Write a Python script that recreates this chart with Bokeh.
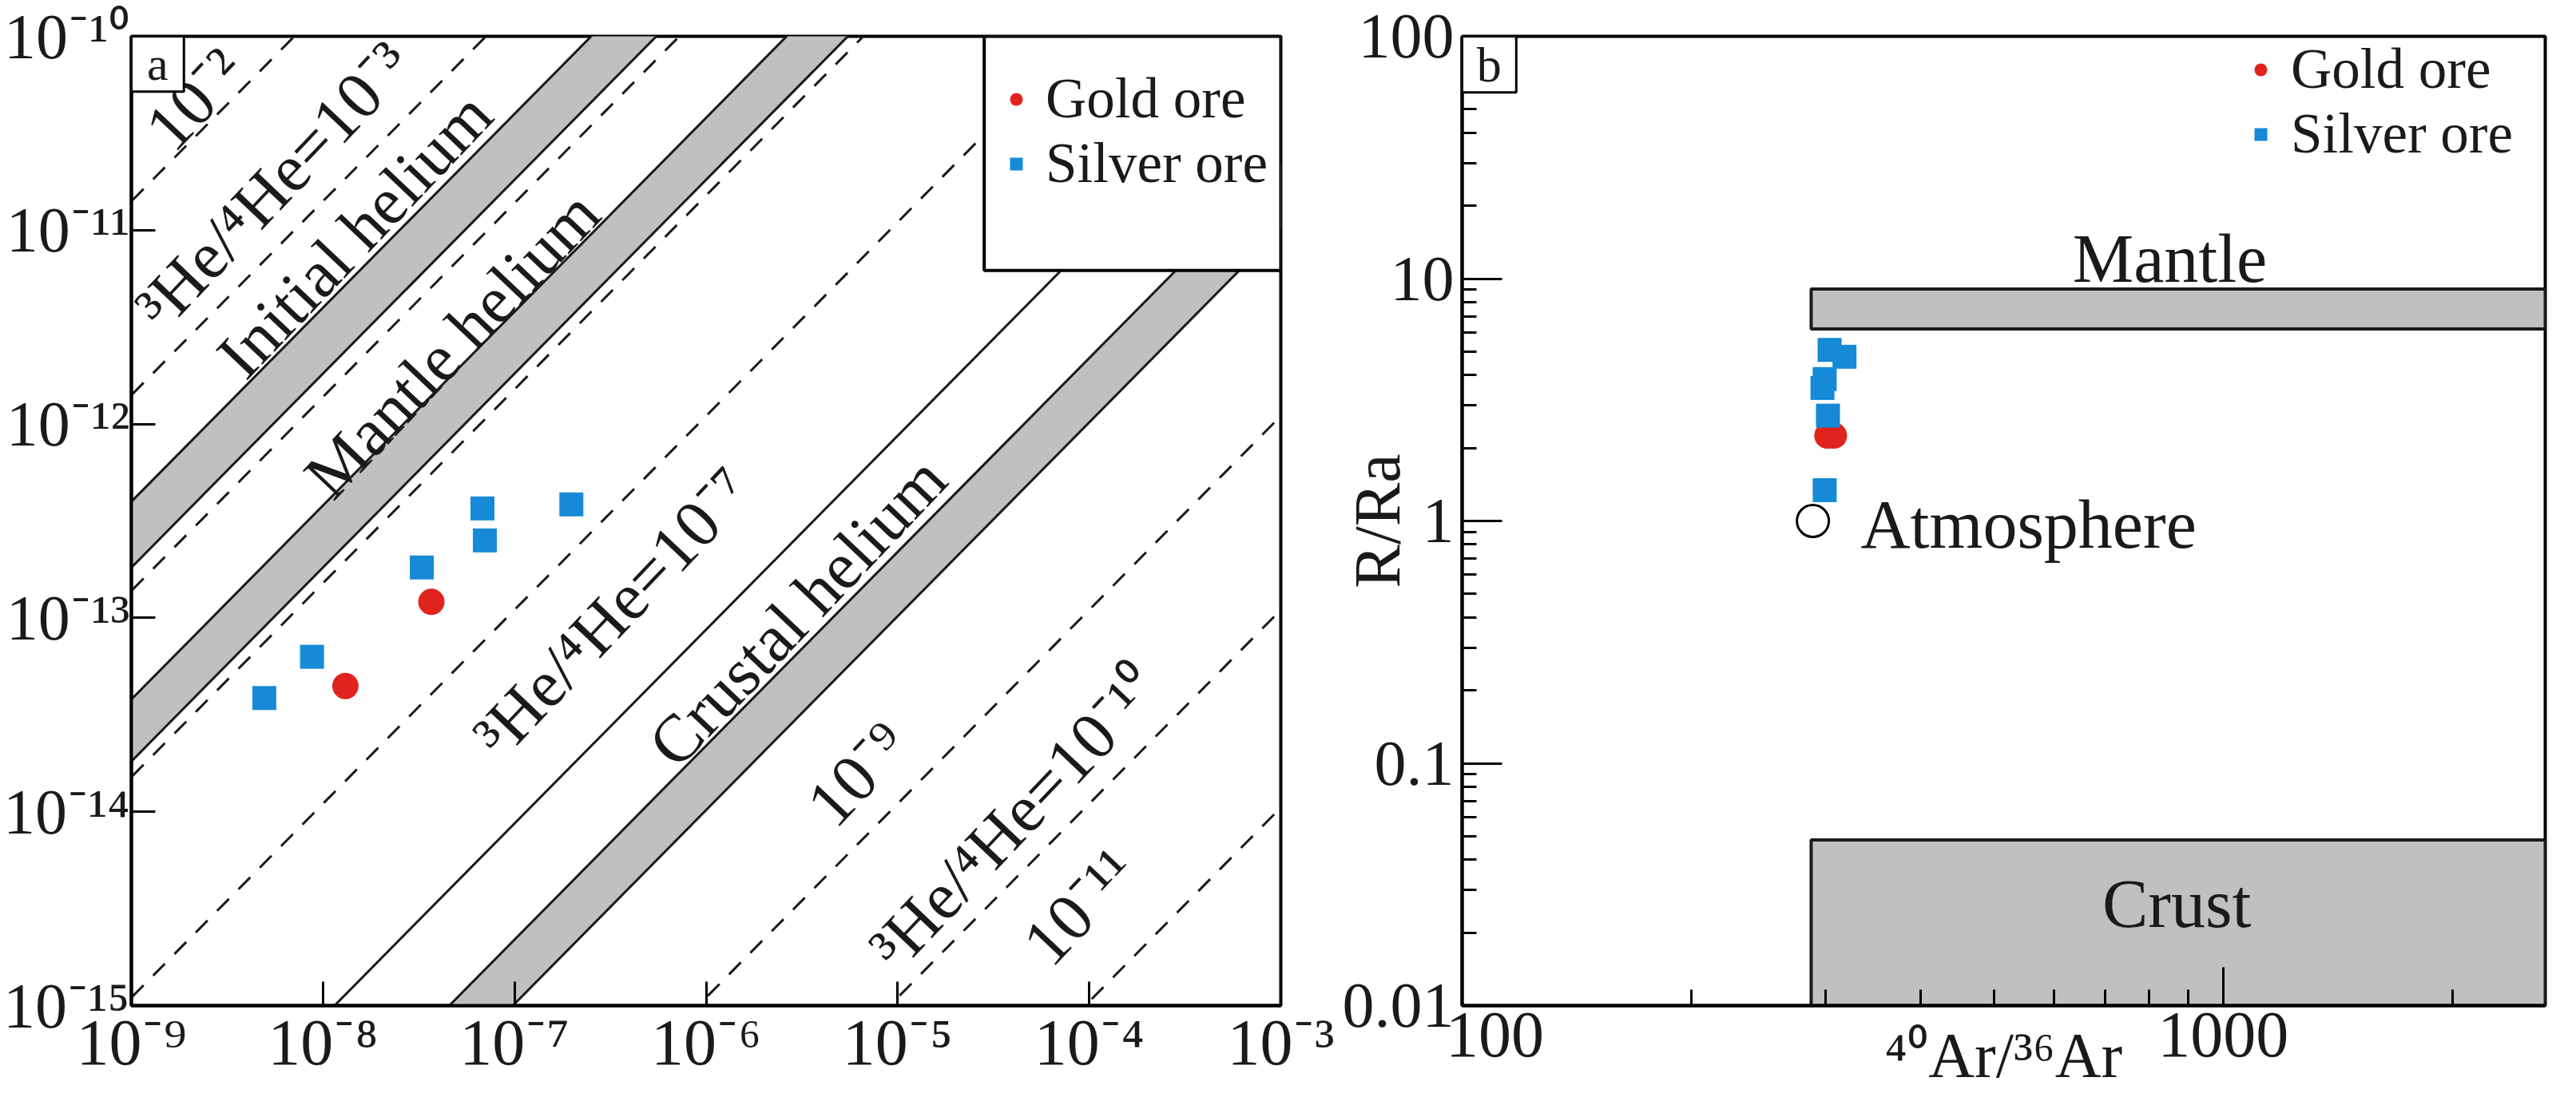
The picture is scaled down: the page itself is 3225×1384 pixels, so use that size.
from bokeh.plotting import figure
from bokeh.models import FixedTicker, BoxAnnotation, Label, Legend, LegendItem
from bokeh.layouts import row
from bokeh.embed import file_html
from bokeh.resources import INLINE
from bokeh.core.properties import value

FONT = "Liberation Serif, Lato, Noto Sans"
INK = "#1a1a1a"
GOLD_COLOR = "#e0231c"
SILVER_COLOR = "#168ad6"
BAND_GRAY = "#c0c0c0"

# ---------------- Panel a data ----------------
he4_ticks = [1e-9, 1e-8, 1e-7, 1e-6, 1e-5, 1e-4, 1e-3]
he4_labels = ["10⁻⁹", "10⁻⁸", "10⁻⁷", "10⁻⁶", "10⁻⁵", "10⁻⁴", "10⁻³"]
he3_ticks = [1e-15, 1e-14, 1e-13, 1e-12, 1e-11, 1e-10]
he3_labels = ["10⁻¹⁵", "10⁻¹⁴", "10⁻¹³", "10⁻¹²", "10⁻¹¹", "10⁻¹⁰"]

gold_he4 = [1.31e-8, 3.68e-8]
gold_he3 = [4.45e-14, 1.21e-13]
silver_he4 = [4.94e-9, 8.77e-9, 3.28e-8, 7.0e-8, 6.8e-8, 1.98e-7]
silver_he3 = [3.86e-14, 6.3e-14, 1.82e-13, 2.51e-13, 3.67e-13, 3.85e-13]

# 3He/4He iso-ratio lines as drawn in the figure (nominal 1e-2 ... 1e-11)
dashed_ratios = [1.41e-2, 1.41e-3, 1.38e-4, 1.51e-5, 1.10e-6, 1.10e-9, 1.10e-10, 1.05e-11]
solid_ratios = [8.7e-8]
band_names = ["Initial helium", "Mantle helium", "Crustal helium"]
band_low = [1.82e-4, 1.82e-5, 1.02e-8]
band_high = [3.98e-4, 3.80e-5, 2.19e-8]

note_text = ["10⁻²", "³He/⁴He=10⁻³", "Initial helium", "Mantle helium",
             "³He/⁴He=10⁻⁷", "Crustal helium", "10⁻⁹", "³He/⁴He=10⁻¹⁰", "10⁻¹¹"]
note_he4 = [2.15e-9, 5.51e-9, 1.46e-8, 4.71e-8, 3.25e-7, 2.99e-6, 6.19e-6, 4.11e-5, 8.91e-5]
note_he3 = [4.75e-11, 1.71e-11, 9.48e-12, 2.58e-12, 1.07e-13, 1.08e-13, 1.57e-14, 9.35e-15, 3.24e-15]

# ---------------- Panel b data ----------------
ar_ticks = [100, 1000]
ar_labels = ["\u2007\u2007100", "1000"]
ar_minor = [200, 300, 400, 500, 600, 700, 800, 900, 2000]
rra_ticks = [0.01, 0.1, 1, 10, 100]
rra_labels = ["0.01", "0.1", "1", "10", "100"]

gold_ar = [302, 308]
gold_rra = [2.25, 2.25]
silver_ar = [304, 318, 299.5, 297.5, 302.5, 299.5]
silver_rra = [5.08, 4.76, 3.85, 3.54, 2.72, 1.34]
atm_ar = [289]
atm_rra = [1.0]

region_names = ["Mantle", "Crust"]
region_ar_start = [287.5, 287.5]
region_low = [6.2, 0.01]
region_high = [9.06, 0.0483]
region_label_ar = [851, 869]
region_label_rra = [12.1, 0.0263]

X_A = (1e-9, 1e-3)
Y_A = (1e-15, 1e-10)
X_B = (100, 2650)
Y_B = (0.01, 100)


def style(p):
    for ax in (p.xaxis[0], p.yaxis[0]):
        ax.axis_line_color = "black"
        ax.axis_line_width = 4
        ax.major_tick_line_color = "black"
        ax.major_tick_line_width = 3
        ax.minor_tick_line_color = "black"
        ax.minor_tick_line_width = 3
        ax.major_tick_out = 0
        ax.minor_tick_out = 0
        ax.major_label_text_font = FONT
        ax.major_label_text_color = INK
        ax.axis_label_text_font = FONT
        ax.axis_label_text_font_style = "normal"
        ax.axis_label_text_color = INK
    p.outline_line_color = "black"
    p.outline_line_width = 4
    p.outline_line_alpha = 1
    p.xgrid.visible = False
    p.ygrid.visible = False
    p.background_fill_color = "white"
    p.border_fill_color = "white"


# ================= Panel a =================
pa = figure(width=1675, height=1368, x_axis_type="log", y_axis_type="log",
            x_range=X_A, y_range=Y_A, output_backend="svg", toolbar_location=None,
            min_border_left=158, min_border_right=72, min_border_top=45, min_border_bottom=104)
style(pa)
pa.xaxis.ticker = FixedTicker(ticks=he4_ticks, minor_ticks=[])
pa.yaxis.ticker = FixedTicker(ticks=he3_ticks, minor_ticks=[])
pa.xaxis.major_label_overrides = dict(zip(he4_ticks, he4_labels))
pa.yaxis.major_label_overrides = dict(zip(he3_ticks, he3_labels))
pa.xaxis.major_label_text_font_size = "82px"
pa.yaxis.major_label_text_font_size = "80px"
pa.xaxis.major_tick_in = 30
pa.yaxis.major_tick_in = 30
pa.xaxis.major_label_standoff = 0
pa.yaxis.major_label_standoff = 2
pa.xaxis.minor_tick_line_color = None
pa.yaxis.minor_tick_line_color = None

X_EXT = [1e-10, 1e-2]
pa.patches(xs=[[X_EXT[0], X_EXT[1], X_EXT[1], X_EXT[0]] for _ in band_low],
           ys=[[h * X_EXT[0], h * X_EXT[1], l * X_EXT[1], l * X_EXT[0]]
               for l, h in zip(band_low, band_high)],
           fill_color=BAND_GRAY, line_color=INK, line_width=3)
pa.multi_line(xs=[X_EXT for _ in dashed_ratios],
              ys=[[r * X_EXT[0], r * X_EXT[1]] for r in dashed_ratios],
              line_color=INK, line_width=3, line_dash="21 17")
pa.multi_line(xs=[X_EXT for _ in solid_ratios],
              ys=[[r * X_EXT[0], r * X_EXT[1]] for r in solid_ratios],
              line_color=INK, line_width=3)

pa.text(x=note_he4, y=note_he3, text=note_text, angle=0.8116,
        text_font=value(FONT), text_font_size=value("84px"), text_color=INK,
        text_align="center", text_baseline="middle")

ga = pa.scatter(gold_he4, gold_he3, marker="circle", size=33,
                fill_color=GOLD_COLOR, line_color=None)
sa = pa.scatter(silver_he4, silver_he3, marker="square", size=30,
                fill_color=SILVER_COLOR, line_color=None)

# legend frame and panel tag
pa.add_layout(BoxAnnotation(left=2.83e-5, right=X_A[1], top=Y_A[1], bottom=6.2e-12,
                            fill_color="white", fill_alpha=1, line_color="black",
                            line_width=4, line_alpha=1))
pa.add_layout(BoxAnnotation(left=X_A[0], right=1.88e-9, top=Y_A[1], bottom=5.18e-11,
                            fill_color="white", fill_alpha=1, line_color="black",
                            line_width=3, line_alpha=1))
pa.add_layout(Label(x=1.37e-9, y=7.2e-11, text="a", text_font=FONT, text_font_size="60px",
                    text_color=INK, text_align="center", text_baseline="middle"))

leg_a = Legend(items=[LegendItem(label="Gold ore", renderers=[ga]),
                      LegendItem(label="Silver ore", renderers=[sa])],
               location=(1088, 1014), border_line_color=None, background_fill_alpha=0,
               label_text_font=FONT, label_text_font_size="71px", label_text_color=INK,
               glyph_width=40, glyph_height=40, label_height=80, label_standoff=17,
               spacing=-2, padding=6, margin=0)
pa.add_layout(leg_a)

# ================= Panel b =================
pb = figure(width=1534, height=1368, x_axis_type="log", y_axis_type="log",
            x_range=X_B, y_range=Y_B, output_backend="svg", toolbar_location=None,
            min_border_left=149, min_border_right=23, min_border_top=45, min_border_bottom=104)
style(pb)
rra_minor = [m * t for t in rra_ticks[:-1] for m in range(2, 10)]
pb.xaxis.ticker = FixedTicker(ticks=ar_ticks, minor_ticks=ar_minor)
pb.yaxis.ticker = FixedTicker(ticks=rra_ticks, minor_ticks=rra_minor)
pb.xaxis.major_label_overrides = dict(zip(ar_ticks, ar_labels))
pb.yaxis.major_label_overrides = dict(zip(rra_ticks, rra_labels))
pb.xaxis.major_label_text_font_size = "82px"
pb.yaxis.major_label_text_font_size = "80px"
pb.xaxis.major_tick_in = 48
pb.xaxis.minor_tick_in = 20
pb.yaxis.major_tick_in = 50
pb.yaxis.minor_tick_in = 18
pb.xaxis.major_label_standoff = -10
pb.yaxis.major_label_standoff = 10
pb.xaxis.axis_label = "⁴⁰Ar/³⁶Ar"
pb.xaxis.axis_label_text_font_size = "80px"
pb.xaxis.axis_label_standoff = -66
pb.yaxis.axis_label = "R/Ra"
pb.yaxis.axis_label_text_font_size = "82px"
pb.yaxis.axis_label_standoff = -92

pb.quad(left=region_ar_start, right=[X_B[1]] * len(region_names),
        bottom=region_low, top=region_high,
        fill_color=BAND_GRAY, line_color=INK, line_width=4)
pb.text(x=region_label_ar, y=region_label_rra, text=region_names,
        text_font=value(FONT), text_font_size=value("86px"), text_color=INK,
        text_align="center", text_baseline="middle")

pb.scatter(atm_ar, atm_rra, marker="circle", size=40, fill_color="white",
           line_color="black", line_width=3)
pb.text(x=[334], y=[0.97], text=["Atmosphere"], text_font=value(FONT),
        text_font_size=value("86px"), text_color=INK, text_align="left",
        text_baseline="middle")

gb = pb.scatter(gold_ar, gold_rra, marker="circle", size=33,
                fill_color=GOLD_COLOR, line_color=None)
sb = pb.scatter(silver_ar, silver_rra, marker="square", size=30,
                fill_color=SILVER_COLOR, line_color=None)

pb.add_layout(BoxAnnotation(left=X_B[0], right=117.8, top=Y_B[1], bottom=58.7,
                            fill_color="white", fill_alpha=1, line_color="black",
                            line_width=3, line_alpha=1))
pb.add_layout(Label(x=108.5, y=76.6, text="b", text_font=FONT, text_font_size="62px",
                    text_color=INK, text_align="center", text_baseline="middle"))

leg_b = Legend(items=[LegendItem(label="Gold ore", renderers=[gb]),
                      LegendItem(label="Silver ore", renderers=[sb])],
               location=(980, 1051), border_line_color=None, background_fill_alpha=0,
               label_text_font=FONT, label_text_font_size="71px", label_text_color=INK,
               glyph_width=40, glyph_height=40, label_height=80, label_standoff=18,
               spacing=-2, padding=6, margin=0)
pb.add_layout(leg_b)

layout = row(pa, pb)
open("out.html", "w").write(file_html(layout, INLINE))
